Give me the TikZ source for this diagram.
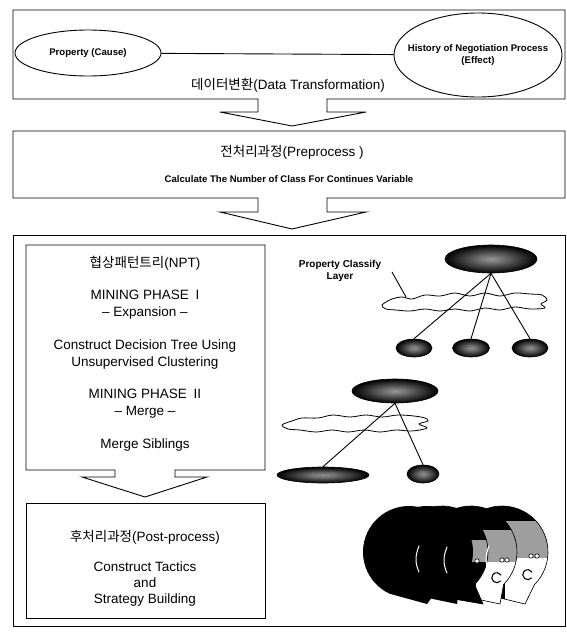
\documentclass[tikz,border=0pt]{standalone}
\usepackage{fontspec}
\setmainfont{Liberation Sans}
\newfontfamily\krfont{Noto Sans CJK KR}
\usetikzlibrary{shapes.geometric}
\begin{document}
\begin{tikzpicture}[x=1pt,y=-1pt,
  frame/.style={draw=black,line width=0.9pt,line join=miter},
  txt/.style={inner sep=0pt,align=center,font=\fontsize{13.5}{17}\selectfont},
  smalltxt/.style={inner sep=0pt,align=center,font=\bfseries\fontsize{9.6}{12.5}\selectfont},
  oval/.style={ellipse,draw=black,line width=0.9pt,fill=white,inner sep=0pt},
  blob/.style={ellipse,draw=black,line width=0.6pt,inner sep=0pt,inner color=black!40,outer color=black,
    font=\fontsize{7}{8}\selectfont,text=black!55},
  cloudline/.style={draw=black,line width=0.8pt,fill=white},
  link/.style={draw=black,line width=0.9pt},
  discfill/.style={fill=black},
  discedge/.style={draw=black,line width=0.6pt},
  band/.style={fill=black!38},
  gleam/.style={draw=white,line width=1pt,line cap=round}]
\useasboundingbox (0,0) rectangle (567,632);

% ---------- data transformation stage with its outlet arrow
\draw[frame] (258,99) -- (13,99) -- (13,10) -- (565,10) -- (565,99) -- (327,99)
  -- (327,112) -- (366,112) -- (292,126) -- (220,112) -- (258,112) -- cycle;
\node[oval,minimum width=146pt,minimum height=46pt] (cause) at (88,53) {};
\node[smalltxt] (causetext) at (cause.center) {Property (Cause)};
\node[oval,minimum width=168pt,minimum height=84pt] (effect) at (478,55) {};
\node[smalltxt] (effecttext) at (effect.center) {History of Negotiation Process\\(Effect)};
\draw[link] (cause) -- (effect);
\node[txt] (dt) at (288,85) {{\krfont 데이터변환}(Data Transformation)};

% ---------- preprocess stage with its outlet arrow
\draw[frame] (258,198) -- (13,198) -- (13,131) -- (565,131) -- (565,198) -- (327,198)
  -- (327,212) -- (366,212) -- (292,229) -- (220,212) -- (258,212) -- cycle;
\node[txt] (pre) at (292,152) {{\krfont 전처리과정}(Preprocess )};
\node[smalltxt] (calc) at (289,179) {Calculate The Number of Class For Continues Variable};

% ---------- mining frame
\draw[frame] (13,235) rectangle (565,626);
\draw[frame] (115,470) -- (26,470) -- (26,245) -- (265,245) -- (265,470) -- (175,470)
  -- (175,477) -- (207,477) -- (145,497) -- (82,477) -- (115,477) -- cycle;
\node[txt] (npt) at (145,263) {{\krfont 협상패턴트리}(NPT)};
\node[txt] (ph1) at (145,304.5) {MINING PHASE\enspace I\\-- Expansion --};
\node[txt] (cdt) at (145,354.5) {Construct Decision Tree Using\\Unsupervised Clustering};
\node[txt] (ph2) at (145,403.5) {MINING PHASE\enspace II\\-- Merge --};
\node[txt] (sib) at (145,445) {Merge Siblings};
\draw[frame] (26,503) rectangle (265,618);
\node[txt] (post) at (145,537) {{\krfont 후처리과정}(Post-process)};
\node[txt,font=\fontsize{13.5}{16}\selectfont] (tac) at (145,584) {Construct Tactics\\and\\Strategy Building};

% ---------- expansion tree
\draw[cloudline] plot[smooth cycle,tension=0.55] coordinates {(382,305) (392,299) (402,297) (412,299)
  (425,295) (440,296) (455,293) (470,296) (485,293) (500,296) (515,293) (530,294) (542,295)
  (547,300) (541,304) (545,308) (530,309) (515,307) (500,310) (485,308) (470,311) (455,309)
  (440,311) (425,309) (410,311) (396,310) (386,309)};
\node[blob,minimum width=92pt,minimum height=28pt] (root1) at (491,259) {};
\node[blob,minimum width=36pt,minimum height=18pt] (a1) at (414,348) {A};
\node[blob,minimum width=37pt,minimum height=18pt] (b1) at (471,348) {B};
\node[blob,minimum width=36pt,minimum height=18pt] (c1) at (530,348) {C};
\draw[link] (root1.south) -- (a1.north);
\draw[link] (root1.south) -- (b1.north);
\draw[link] (root1.south) -- (c1.north);
\node[smalltxt,font=\bfseries\fontsize{10}{11.5}\selectfont] (pcl) at (340,271) {Property Classify\\Layer};
\coordinate (pclA) at (392,272);
\coordinate (pclB) at (406,297);
\draw[link] (pclA) -- (pclB);

% ---------- merged tree
\draw[cloudline] plot[smooth cycle,tension=0.55] coordinates {(282,425) (292,421) (302,418) (318,418)
  (333,415) (350,417) (366,415) (382,417) (398,415) (414,416) (425,418) (428,421) (419,424)
  (427,428) (412,431) (396,430) (380,432) (364,430) (348,432) (332,430) (316,432) (300,430) (288,429)};
\node[blob,minimum width=86pt,minimum height=24pt] (root2) at (395,391) {};
\node[blob,minimum width=92pt,minimum height=16pt] (ab2) at (323,475) {A and B};
\node[blob,minimum width=32pt,minimum height=18pt] (c2) at (423,474) {C};
\draw[link] (root2.south) -- (ab2.north);
\draw[link] (root2.south) -- (c2.north);

% ---------- stack of strategy discs (back to front)
\begin{scope}
  \clip (525,604) -- (482.56,593.69) arc[start angle=115,end angle=405,radius=46] -- cycle;
  \fill[discfill] (440,500) rectangle (570,620);
  \fill[band] (505,521) rectangle (570,558);
  \fill[white] (505,558) rectangle (570,620);
\end{scope}
\draw[discedge] (525,604) -- (482.56,593.69) arc[start angle=115,end angle=405,radius=46] -- cycle;
\begin{scope}
  \clip (500,604) -- (451.56,593.69) arc[start angle=115,end angle=405,radius=46] -- cycle;
  \fill[discfill] (410,500) rectangle (540,620);
  \fill[band] (476,530) rectangle (540,562);
  \fill[white] (476,562) rectangle (540,620);
\end{scope}
\draw[discedge] (500,604) -- (451.56,593.69) arc[start angle=115,end angle=405,radius=46] -- cycle;
\begin{scope}
  \clip (483,604) -- (422.56,593.69) arc[start angle=115,end angle=405,radius=46] -- cycle;
  \fill[discfill] (380,500) rectangle (510,620);
  \fill[band] (462,540) rectangle (510,562);
\end{scope}
\draw[discedge] (483,604) -- (422.56,593.69) arc[start angle=115,end angle=405,radius=46] -- cycle;
\fill[discfill] (457,604) -- (407.56,593.69) arc[start angle=115,end angle=405,radius=46] -- cycle;
\fill[discfill] (427,604) -- (389.56,593.69) arc[start angle=115,end angle=405,radius=46] -- cycle;
% highlights and markings
\draw[gleam] (419,546) .. controls (415,556) and (415,563) .. (419,572);
\draw[gleam] (447,547) .. controls (443,557) and (443,564) .. (447,573);
\draw[gleam] (489,546) .. controls (485,556) and (485,563) .. (489,571);
\draw[line width=1.1pt] (500.6,580.9) arc[start angle=40,end angle=330,radius=5];
\draw[line width=1.1pt] (531.6,577.9) arc[start angle=40,end angle=330,radius=5];
\foreach \u/\v in {531/556,537/556,502/560,507/560,477/561}
  \draw[fill=white,line width=0.6pt] (\u,\v) circle[radius=2.2];
\end{tikzpicture}
\end{document}
